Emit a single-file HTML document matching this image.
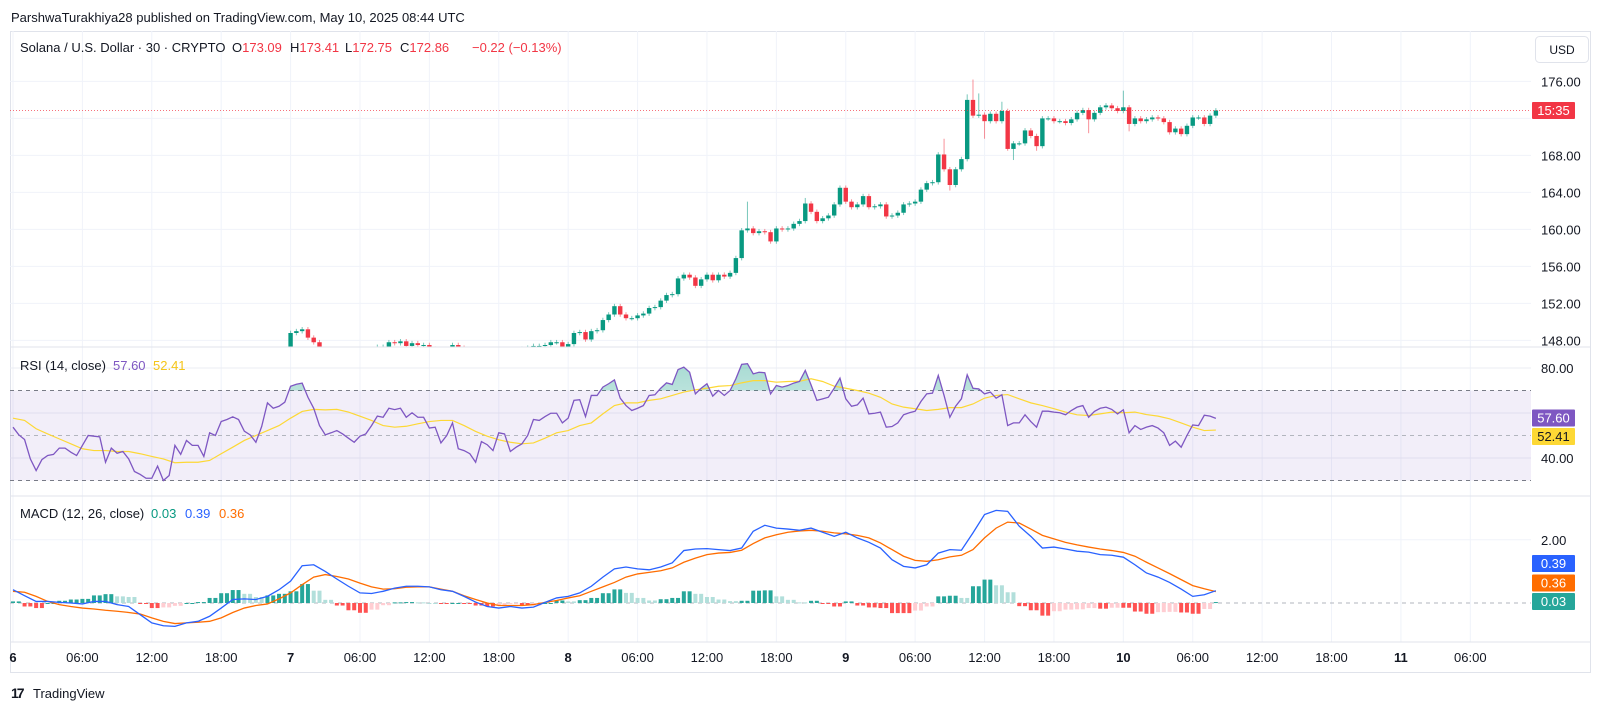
<!DOCTYPE html>
<html><head><meta charset="utf-8"><title>SOL/USD chart</title>
<style>
html,body{margin:0;padding:0;background:#fff;}
svg{display:block;font-family:"Liberation Sans",sans-serif;}
</style></head>
<body>
<svg id="chart" width="1600" height="712" viewBox="0 0 1600 712">
  <defs>
    <clipPath id="clipMain"><rect x="10" y="31" width="1521" height="316"/></clipPath>
    <clipPath id="clipRsi"><rect x="10" y="347" width="1521" height="149"/></clipPath>
    <clipPath id="clipOB"><rect x="10" y="347" width="1521" height="43.5"/></clipPath>
    <clipPath id="clipMacd"><rect x="10" y="496" width="1521" height="146"/></clipPath>
    <linearGradient id="obGrad" x1="0" y1="0" x2="0" y2="1">
      <stop offset="0" stop-color="#089981" stop-opacity="0.35"/>
      <stop offset="1" stop-color="#089981" stop-opacity="0.05"/>
    </linearGradient>
  </defs>
  <text x="11" y="22" font-size="13" fill="#131722">ParshwaTurakhiya28 published on TradingView.com, May 10, 2025 08:44 UTC</text>
  <rect x="10.5" y="31.5" width="1580" height="641" fill="none" stroke="#e0e3eb"/>
  <g id="grid"></g>
  <rect x="10" y="390.5" width="1521" height="90" fill="#7e57c2" fill-opacity="0.1"/>
  <g id="main" clip-path="url(#clipMain)"></g>
  <g id="rsi" clip-path="url(#clipRsi)"></g>
  <g id="macd" clip-path="url(#clipMacd)"></g>
  <line x1="10" y1="347" x2="1591" y2="347" stroke="#e0e3eb"/>
  <line x1="10" y1="496" x2="1591" y2="496" stroke="#e0e3eb"/>
  <line x1="10" y1="642" x2="1591" y2="642" stroke="#e0e3eb"/>
  <g id="axes"></g>
  <text x="20" y="52" font-size="13" fill="#131722">Solana / U.S. Dollar · 30 · CRYPTO<tspan x="232">O</tspan><tspan fill="#f23645">173.09</tspan><tspan x="290">H</tspan><tspan fill="#f23645">173.41</tspan><tspan x="345">L</tspan><tspan fill="#f23645">172.75</tspan><tspan x="400">C</tspan><tspan fill="#f23645">172.86</tspan><tspan x="472" fill="#f23645">−0.22 (−0.13%)</tspan></text>
  <text x="20" y="370" font-size="13" fill="#131722">RSI (14, close)<tspan x="113" fill="#7e57c2">57.60</tspan><tspan x="153" fill="#f5c518">52.41</tspan></text>
  <text x="20" y="518" font-size="13" fill="#131722">MACD (12, 26, close)<tspan x="151" fill="#089981">0.03</tspan><tspan x="185" fill="#2962ff">0.39</tspan><tspan x="219" fill="#ff6d00">0.36</tspan></text>
  <rect x="1535.5" y="36.5" width="53" height="26" rx="4" fill="#fff" stroke="#e0e3eb"/>
  <text x="1562" y="54" font-size="12" fill="#131722" text-anchor="middle">USD</text>
  <g>
    <text x="11" y="698" font-size="14" font-weight="bold" fill="#131722" letter-spacing="-2">17</text>
    <text x="33" y="698" font-size="13" fill="#131722">TradingView</text>
  </g>
</svg>
<script>
// ---- price data (30m candles, index i: 0 = May 6 00:00) ----
const firstIndex = 47;
const closes = [147.3,
148.8,149.0,149.2,148.3,147.8,146.9,
146.5,146.0,145.6,145.2,145.8,146.3,146.0,146.6,
147.0,147.3,147.3,147.8,147.7,147.9,147.4,147.7,147.5,147.5,147.1,
146.6,146.3,146.9,147.5,147.2,
146.8,146.5,146.2,146.0,146.4,146.7,146.5,146.9,147.0,146.8,147.1,147.2,
147.4,147.4,147.5,147.8,147.8,147.3,147.6,148.8,148.9,148.1,149.0,149.1,150.2,150.8,151.7,150.8,150.4,150.4,150.7,150.9,151.5,151.6,152.3,152.9,153.0,154.7,155.1,154.8,153.9,154.6,155.1,154.5,155.1,154.9,155.3,156.9,
159.9,160.1,159.6,159.8,159.7,158.7,160.1,160.0,160.1,160.6,160.9,162.8,161.9,160.9,161.2,161.5,162.7,164.5,163.0,162.4,162.7,163.6,162.4,162.5,162.7,161.4,161.5,161.8,162.7,162.8,163.0,164.3,165.0,165.1,168.1,166.5,164.8,166.5,167.6,174.0,172.3,172.4,171.7,172.5,171.7,172.8,168.7,169.3,169.3,170.7,170.1,169.0,172.0,172.0,171.7,171.7,171.5,171.9,172.6,172.9,171.9,172.6,173.2,173.4,173.1,172.8,173.2,171.4,172.0,171.7,171.9,172.1,172.0,171.6,170.5,170.9,170.3,171.2,172.1,172.1,171.4,172.3,172.86];
const highOverrides = {127:163.0,137:163.4,161:169.8,165:174.6,166:176.2,167:174.7,171:173.8,192:175.0};
const lowOverrides = {162:164.2,168:169.8,172:168.5,173:167.5,177:168.5,186:170.4,193:170.6};
// ---- RSI ----
const rsiValues = [53.7,50.3,48.2,39.6,34.4,39.3,41.1,41.6,44.4,44.4,42.6,41.1,45.6,50.0,49.7,49.4,38.1,44.4,42.1,42.9,39.6,34.0,32.7,31.0,31.0,36.4,30.0,32.2,45.6,41.6,47.8,45.6,45.6,40.7,51.2,50.0,56.2,57.1,58.3,57.1,51.9,50.3,47.0,54.0,64.5,62.1,63.0,64.8,71.9,72.8,73.3,67.0,62.1,54.4,50.3,51.2,52.2,50.7,48.8,47.0,49.7,50.7,54.4,58.6,58.1,62.1,61.5,62.1,58.1,60.1,58.1,58.1,53.3,53.7,46.7,50.0,55.6,44.1,43.3,41.9,38.1,47.3,45.9,43.3,51.2,50.7,42.9,44.8,46.3,50.0,57.1,56.7,58.4,59.9,59.9,55.6,57.7,65.6,65.9,58.4,67.8,67.8,71.5,73.0,74.7,66.6,63.3,61.1,62.1,63.3,67.8,68.1,71.0,73.4,72.7,79.3,80.4,78.1,68.5,71.0,73.0,67.5,70.0,67.8,70.0,75.2,81.6,81.9,77.4,78.1,77.9,68.5,72.2,71.5,72.2,73.3,74.0,78.9,72.5,65.6,66.3,67.0,71.0,75.5,66.3,63.0,63.6,66.6,59.6,59.9,60.4,53.7,54.0,55.6,59.2,60.1,60.8,65.1,68.5,68.8,76.7,67.8,58.1,63.0,66.3,77.0,71.0,70.7,68.5,69.3,66.6,68.1,54.4,55.6,55.6,59.2,56.2,53.7,60.8,60.8,60.4,60.1,59.2,61.1,62.6,63.3,58.1,60.7,62.1,62.6,61.6,59.6,61.4,51.2,54.4,52.7,53.7,54.4,53.3,51.2,45.6,47.5,44.8,50.0,54.7,54.4,59.0,58.6,57.6];
// RSI moving average, sampled every 2nd candle (i = 0,2,4,...,208)
const rsiMaValues = [57.7,56.7,53,50.7,48.5,46.3,44.1,43.3,43.3,42.9,42.9,41.9,40.7,39.6,37.9,38.1,38.1,38.9,41.9,44.8,47.8,50,52.2,54.4,57.7,60.7,61.6,61.4,61.6,60.4,58.6,56.7,54.4,53.7,54.1,55.2,56.2,56.7,56.7,54.4,51.8,49.7,48.1,47,46.3,46.7,48.8,51.2,52.2,54.4,55.6,59.6,
63.3,64.5,64.5,65.6,66.3,67.8,69.3,70.3,71,71.9,72.2,73.4,74.4,74.4,73.7,74,74.1,75.2,74,71.9,71,70,68.8,67,64,62.6,61.9,61.1,61.6,62.4,62.4,64,66.6,67.8,68.2,66.3,64.5,63.3,61.9,60.4,59.2,58.9,59.6,60.4,60.1,60.4,59.3,58.6,57.4,55.6,53.7,52.2,52.41];
// ---- MACD, sampled every 2nd candle ----
const macdValues = [0.42,0.23,0.05,0.05,0.02,0,-0.03,0.05,0.05,-0.05,-0.11,-0.37,-0.63,-0.72,-0.74,-0.63,-0.58,-0.42,-0.16,0.11,0.13,0.11,0.21,0.42,0.69,1.18,1.21,1.0,0.76,0.53,0.32,0.30,0.37,0.47,0.53,0.53,0.51,0.42,0.37,0.21,0.03,-0.11,-0.16,-0.11,-0.16,-0.13,0.02,0.16,0.21,0.32,0.53,0.82,
1.08,1.14,1.08,1.05,1.14,1.27,1.66,1.71,1.72,1.69,1.66,1.74,2.27,2.46,2.37,2.34,2.30,2.37,2.24,2.11,2.24,2.06,1.92,1.74,1.37,1.16,1.11,1.21,1.58,1.69,1.67,2.22,2.80,2.93,2.90,2.43,2.11,1.74,1.77,1.71,1.64,1.61,1.53,1.51,1.45,1.21,0.95,0.82,0.65,0.44,0.21,0.26,0.39];
const signalValues = [0.37,0.34,0.21,0.05,-0.05,-0.11,-0.16,-0.19,-0.23,-0.26,-0.30,-0.35,-0.47,-0.58,-0.65,-0.63,-0.61,-0.58,-0.47,-0.30,-0.16,-0.08,-0.03,0.13,0.32,0.58,0.82,0.90,0.84,0.76,0.63,0.51,0.44,0.45,0.50,0.51,0.51,0.44,0.37,0.23,0.11,0,-0.08,-0.08,-0.08,-0.05,0.02,0.08,0.16,0.23,0.37,0.51,
0.65,0.82,0.92,0.97,1.02,1.11,1.29,1.42,1.53,1.58,1.60,1.67,1.88,2.06,2.16,2.24,2.28,2.30,2.27,2.22,2.19,2.14,2.06,1.90,1.69,1.48,1.35,1.32,1.37,1.46,1.51,1.69,2.06,2.37,2.56,2.53,2.34,2.14,2.03,1.92,1.84,1.77,1.71,1.66,1.60,1.48,1.29,1.11,0.93,0.74,0.55,0.45,0.36];
const priceTicks = [148,152,156,160,164,168,176];
const rsiTicks = [80,40];
const macdTicks = [2];
const timeLabels = ["6","06:00","12:00","18:00","7","06:00","12:00","18:00","8","06:00","12:00","18:00","9","06:00","12:00","18:00","10","06:00","12:00","18:00","11","06:00"];
const lastPrice = 172.86;

// ---- axis functions ----
const NS = "http://www.w3.org/2000/svg";
const sampleStep = 2, lastIndex = 208;
function xAt(i){ return 13 + i*5.783; }
function py(p){ return 81.4 + (176-p)*9.25; }
function ry(r){ return 435.5 - (r-50)*2.25; }
function my(m){ return 603 - m*31.6; }
function mk(tag, attrs, parent){
  const el = document.createElementNS(NS, tag);
  for (const k in attrs) el.setAttribute(k, attrs[k]);
  parent.appendChild(el);
  return el;
}
const grid = document.getElementById('grid');
const main = document.getElementById('main');
const rsi = document.getElementById('rsi');
const macd = document.getElementById('macd');
const axes = document.getElementById('axes');

// grid
timeLabels.forEach((t,k)=>{
  const x = xAt(k*12);
  const l = mk('line',{x1:x,x2:x,y1:31,y2:642,stroke:'#f0f3fa'},grid);
  
  
  const isDay = !t.includes(':');
  const tx = mk('text',{x:x,y:662,'font-size':13,'text-anchor':'middle',fill:'#131722','font-weight':isDay?'bold':'normal'},axes);
  tx.textContent = t;
  
  
});
priceTicks.concat([172]).forEach(p=>{
  const l = mk('line',{x1:10,x2:1531,y1:py(p),y2:py(p),stroke:'#f0f3fa'},grid);
  
  
});
priceTicks.forEach(p=>{
  const tx = mk('text',{x:1541,y:py(p)+5,'font-size':13,fill:'#131722'},axes);
  tx.textContent = p.toFixed(2);
  
  
});
[80,60,40].forEach(r=>{
  const l = mk('line',{x1:10,x2:1531,y1:ry(r),y2:ry(r),stroke:'#ebedf3'},grid);
  
  
});
rsiTicks.forEach(r=>{
  const tx = mk('text',{x:1541,y:ry(r)+5,'font-size':13,fill:'#131722'},axes);
  tx.textContent = r.toFixed(2);
  
  
});
macdTicks.forEach(m=>{
  const l = mk('line',{x1:10,x2:1531,y1:my(m),y2:my(m),stroke:'#f0f3fa'},grid);
  
  
  const tx = mk('text',{x:1541,y:my(m)+5,'font-size':13,fill:'#131722'},axes);
  tx.textContent = m.toFixed(2);
  
  
});
// RSI level lines
[[70,'#787b86'],[50,'#b2b5be'],[30,'#787b86']].forEach(([r,c])=>{
  const l = mk('line',{x1:10,x2:1531,y1:ry(r),y2:ry(r),stroke:c,'stroke-dasharray':'4 4'},rsi);
  
  
});
const z = mk('line',{x1:10,x2:1531,y1:my(0),y2:my(0),stroke:'#b2b5be','stroke-dasharray':'4 4'},macd);



// candles
for (let k=1;k<closes.length;k++){
  const i = firstIndex + k;
  const o = closes[k-1], c = closes[k];
  const up = c >= o;
  const col = up ? '#089981' : '#f23645';
  const hi = highOverrides[i] !== undefined ? highOverrides[i] : Math.max(o,c)+0.25;
  const lo = lowOverrides[i] !== undefined ? lowOverrides[i] : Math.min(o,c)-0.25;
  const x = xAt(i);
  const w = mk('line',{x1:x,x2:x,y1:py(hi),y2:py(lo),stroke:col,'stroke-opacity':0.55},main);
  
  
  const top = py(Math.max(o,c)), bot = py(Math.min(o,c));
  const b = mk('rect',{x:x-2.2,y:top,width:4.4,height:Math.max(1,bot-top),fill:col},main);
  
  
}
// last price line
const lpY = py(lastPrice);
const lp = mk('line',{x1:10,x2:1531,y1:lpY,y2:lpY,stroke:'#f23645','stroke-dasharray':'1 2','stroke-opacity':0.7},main);



// RSI line + overbought fill
const rsiPts = rsiValues.map((r,i)=>xAt(i)+','+ry(r)).join(' ');
const ob = mk('polygon',{points: xAt(0)+','+ry(70)+' '+rsiPts+' '+xAt(rsiValues.length-1)+','+ry(70), fill:'url(#obGrad)','clip-path':'url(#clipOB)'},rsi);


const maPts = rsiMaValues.map((r,k)=>xAt(Math.min(k*sampleStep,lastIndex))+','+ry(r)).join(' ');
const ma = mk('polyline',{points:maPts,fill:'none',stroke:'#fdd835','stroke-width':1.2},rsi);


const rl = mk('polyline',{points:rsiPts,fill:'none',stroke:'#7e57c2','stroke-width':1.3},rsi);



// MACD histogram
let prevH = 0;
for (let k=0;k<macdValues.length;k++){
  const h = macdValues[k]-signalValues[k];
  let col;
  if (h>=0) col = h>=prevH ? '#26a69a' : '#b2dfdb';
  else col = h<prevH ? '#ff5252' : '#ffcdd2';
  prevH = h;
  const i0 = Math.min(k*sampleStep,lastIndex);
  for (let d=0; d<sampleStep && i0+d<=lastIndex; d++){
    const x = xAt(i0+d);
    const y1 = Math.min(my(h),my(0)), y2 = Math.max(my(h),my(0));
    const bar = mk('rect',{x:x-2,y:y1,width:4,height:Math.max(1,y2-y1),fill:col},macd);
    
    
  }
  if (k*sampleStep>=lastIndex) break;
}
const sig = mk('polyline',{points:signalValues.map((m,k)=>xAt(Math.min(k*sampleStep,lastIndex))+','+my(m)).join(' '),fill:'none',stroke:'#ff6d00','stroke-width':1.3},macd);


const ml = mk('polyline',{points:macdValues.map((m,k)=>xAt(Math.min(k*sampleStep,lastIndex))+','+my(m)).join(' '),fill:'none',stroke:'#2962ff','stroke-width':1.3},macd);



// value badges on scale
function badge(y, bg, fg, text, name){
  const r = mk('rect',{x:1532,y:y-8.5,width:43,height:17,fill:bg,rx:1},axes);
  
  
  const t = mk('text',{x:1553.5,y:y+4.5,'font-size':13,fill:fg,'text-anchor':'middle'},axes);
  t.textContent = text;
  
  
}
const hist = macdValues[macdValues.length-1]-signalValues[signalValues.length-1];
badge(lpY, '#f23645', '#fff', '15:35', 'countdown-badge');
badge(418, '#7e57c2', '#fff', rsiValues[rsiValues.length-1].toFixed(2), 'rsi-value-badge');
badge(436.5, '#fdd835', '#131722', rsiMaValues[rsiMaValues.length-1].toFixed(2), 'rsi-ma-badge');
badge(563.5, '#2962ff', '#fff', macdValues[macdValues.length-1].toFixed(2), 'macd-value-badge');
badge(583, '#ff6d00', '#fff', signalValues[signalValues.length-1].toFixed(2), 'signal-value-badge');
badge(601.5, '#26a69a', '#fff', hist.toFixed(2), 'histogram-value-badge');
</script>
</body></html>
